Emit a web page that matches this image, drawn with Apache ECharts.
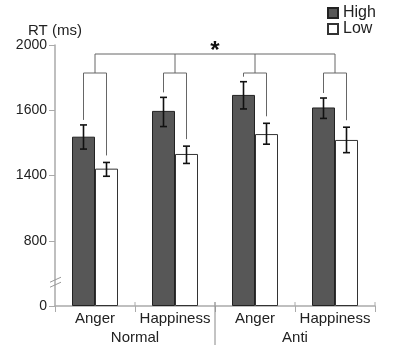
<!DOCTYPE html>
<html>
<head>
<meta charset="utf-8">
<script src="https://cdn.jsdelivr.net/npm/echarts@6/dist/echarts.min.js"></script>
<style>html,body{margin:0;padding:0;background:#fff;}#c{width:400px;height:347px;}</style>
</head>
<body>
<div id="c"></div>
<script>
const tickLabels = ['0', '800', '1400', '1600', '2000'];
const tickValues = [0, 800, 1400, 1600, 2000];
const categories = ['Anger', 'Happiness', 'Anger', 'Happiness'];
const groups = ['Normal', 'Anti'];
const highMean = [1519, 1598, 1694, 1617];
const highErrLow = [1481, 1550, 1608, 1575];
const highErrHigh = [1555, 1679, 1775, 1675];
const lowMean = [1421, 1466, 1527, 1509];
const lowErrLow = [1393, 1437, 1496, 1470];
const lowErrHigh = [1440, 1490, 1560, 1548];

// map an RT value onto the (evenly spaced, non-linear) labelled axis
function toAxis(v) {
  for (let k = 1; k < tickValues.length; k++) {
    if (v <= tickValues[k]) return k - 1 + (v - tickValues[k - 1]) / (tickValues[k] - tickValues[k - 1]);
  }
  return tickValues.length - 1;
}

const BW = 23;
const FONT = '"Liberation Sans", Arial, sans-serif';
const chart = echarts.init(document.getElementById('c'), null, {renderer: 'canvas'});

function errSeries(name, lo, hi, off) {
  return {
    type: 'custom', name: name + ' err', xAxisIndex: 0, yAxisIndex: 0, z: 5,
    data: categories.map((c, i) => [i, toAxis(lo[i]), toAxis(hi[i])]),
    renderItem: function (params, api) {
      const a = api.coord([api.value(0), api.value(1)]);
      const b = api.coord([api.value(0), api.value(2)]);
      const x = a[0] + off;
      const st = {stroke: '#111', lineWidth: 1.6};
      return {type: 'group', children: [
        {type: 'line', shape: {x1: x, y1: a[1], x2: x, y2: b[1]}, style: st},
        {type: 'line', shape: {x1: x - 3.5, y1: a[1], x2: x + 3.5, y2: a[1]}, style: st},
        {type: 'line', shape: {x1: x - 3.5, y1: b[1], x2: x + 3.5, y2: b[1]}, style: st}
      ]};
    }
  };
}

const option = {
  animation: false,
  backgroundColor: '#fff',
  textStyle: {fontFamily: FONT},
  grid: {left: 55, right: 25, top: 45, bottom: 41},
  legend: {
    data: ['High', 'Low'], orient: 'vertical', left: 322, top: 0,
    icon: 'rect', itemWidth: 10, itemHeight: 10, itemGap: 0,
    textStyle: {fontSize: 16, color: '#222', fontFamily: FONT}
  },
  xAxis: [{
    type: 'category', data: categories,
    axisLine: {lineStyle: {color: '#aaa', width: 1.5}},
    axisTick: {show: true, interval: 0, length: 6, lineStyle: {color: '#aaa'}},
    axisLabel: {fontSize: 15, color: '#222', margin: 5, interval: 0, fontFamily: FONT}
  }, {
    type: 'category', data: groups, position: 'bottom',
    axisLine: {show: false}, axisTick: {show: false},
    axisLabel: {fontSize: 15, color: '#222', margin: 24, fontFamily: FONT}
  }],
  yAxis: {
    type: 'value', min: 0, max: 4, interval: 1,
    name: 'RT (ms)', nameLocation: 'end', nameGap: 7,
    nameTextStyle: {fontSize: 15, color: '#222', fontFamily: FONT},
    axisLine: {show: true, lineStyle: {color: '#aaa', width: 1.5}},
    axisTick: {show: true, length: 6, lineStyle: {color: '#aaa'}},
    splitLine: {show: false},
    axisLabel: {formatter: v => tickLabels[v], fontSize: 14, color: '#222', margin: 8, fontFamily: FONT}
  },
  series: [{
    name: 'High', type: 'bar', xAxisIndex: 0, barWidth: BW, barGap: '0%',
    data: highMean.map(toAxis),
    itemStyle: {color: '#575757', borderColor: '#222', borderWidth: 1}
  }, {
    name: 'Low', type: 'bar', xAxisIndex: 0, barWidth: BW, barGap: '0%',
    data: lowMean.map(toAxis),
    itemStyle: {color: '#fff', borderColor: '#333', borderWidth: 1}
  },
  errSeries('High', highErrLow, highErrHigh, -BW / 2),
  errSeries('Low', lowErrLow, lowErrHigh, BW / 2),
  {
    type: 'custom', name: 'deco', xAxisIndex: 0, yAxisIndex: 0, z: 6, clip: false,
    data: [[0]],
    renderItem: function (params, api) {
      const st = {stroke: '#666', lineWidth: 1};
      const top = api.coord([0, 4])[1];
      const base = api.coord([0, 0])[1];
      const yTop = top + 9, ySmall = top + 28;
      const kids = [];
      const centers = categories.map((c, i) => api.coord([i, 0])[0]);
      kids.push({type: 'line', shape: {x1: centers[0], y1: yTop, x2: centers[3], y2: yTop}, style: st});
      categories.forEach((c, i) => {
        const cx = centers[i];
        const xh = cx - BW / 2, xl = cx + BW / 2;
        const eh = api.coord([i, toAxis(highErrHigh[i])])[1];
        const el = api.coord([i, toAxis(lowErrHigh[i])])[1];
        kids.push({type: 'line', shape: {x1: cx, y1: yTop, x2: cx, y2: ySmall}, style: st});
        kids.push({type: 'line', shape: {x1: xh, y1: ySmall, x2: xl, y2: ySmall}, style: st});
        kids.push({type: 'line', shape: {x1: xh, y1: ySmall, x2: xh, y2: eh - 5}, style: st});
        kids.push({type: 'line', shape: {x1: xl, y1: ySmall, x2: xl, y2: el - 7}, style: st});
      });
      const mid = (centers[1] + centers[2]) / 2;
      kids.push({type: 'text', style: {text: '*', x: mid, y: yTop - 3, fontSize: 24, fontWeight: 'bold', fontFamily: FONT, fill: '#111', align: 'center', verticalAlign: 'middle'}});
      // group divider between Normal and Anti
      kids.push({type: 'line', shape: {x1: mid, y1: base - 4, x2: mid, y2: base + 39}, style: {stroke: '#888', lineWidth: 1}});
      // x-axis ticks reaching slightly above the axis
      for (let k = 1; k <= categories.length; k++) {
        const tx = centers[0] + (k - 0.5) * (centers[1] - centers[0]);
        kids.push({type: 'line', shape: {x1: tx, y1: base - 4, x2: tx, y2: base}, style: {stroke: '#aaa', lineWidth: 1}});
      }
      // axis break marks
      const ax = centers[0] - (centers[1] - centers[0]) / 2;
      const yb = api.coord([0, 0.38])[1];
      kids.push({type: 'line', shape: {x1: ax - 5, y1: yb + 1, x2: ax + 6, y2: yb - 4}, style: {stroke: '#999', lineWidth: 1}});
      kids.push({type: 'line', shape: {x1: ax - 5, y1: yb + 6, x2: ax + 6, y2: yb + 1}, style: {stroke: '#999', lineWidth: 1}});
      return {type: 'group', children: kids};
    }
  }]
};
chart.setOption(option);
</script>
</body>
</html>
